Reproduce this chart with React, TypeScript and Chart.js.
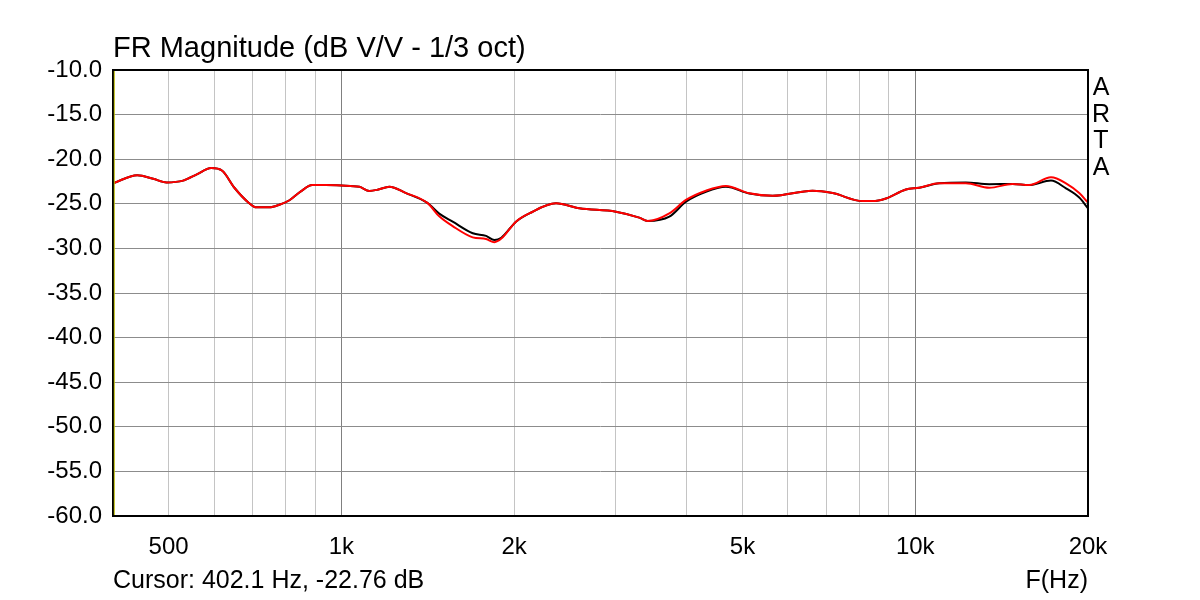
import React, { useEffect, useRef } from "react";
import { Chart, registerables } from "chart.js";

Chart.register(...registerables);

const freqs = [400, 441, 470, 496, 530, 560, 593, 620, 651, 690, 711, 749, 780, 812, 850, 890, 940, 1000, 1075, 1119, 1160, 1212, 1296, 1412, 1481, 1563, 1694, 1787, 1848, 1900, 2015, 2126, 2366, 2598, 3009, 3304, 3417, 3728, 3986, 4318, 4678, 5139, 5643, 6622, 7179, 8097, 8425, 8892, 9631, 10160, 11010, 12250, 13460, 14780, 15800, 17240, 18310, 19310, 20000];

const blackDb = [-22.7, -21.8, -22.2, -22.6, -22.4, -21.7, -21.0, -21.3, -23.2, -24.9, -25.4, -25.4, -25.1, -24.6, -23.6, -22.9, -22.9, -22.95, -23.1, -23.56, -23.4, -23.08, -23.8, -24.9, -26.1, -27.0, -28.3, -28.6, -29.06, -28.8, -27.0, -26.07, -24.95, -25.5, -25.88, -26.55, -26.93, -26.45, -24.76, -23.65, -23.1, -23.85, -24.1, -23.53, -23.8, -24.7, -24.7, -24.4, -23.4, -23.2, -22.7, -22.6, -22.8, -22.78, -22.9, -22.4, -23.27, -24.3, -25.5];

const redDb = [-22.7, -21.8, -22.2, -22.6, -22.4, -21.7, -21.0, -21.3, -23.2, -24.9, -25.4, -25.4, -25.1, -24.6, -23.6, -22.9, -22.9, -22.95, -23.1, -23.56, -23.4, -23.08, -23.8, -24.9, -26.4, -27.5, -28.76, -28.95, -29.3, -28.9, -27.0, -26.07, -24.95, -25.5, -25.88, -26.55, -26.93, -26.07, -24.57, -23.53, -23.0, -23.82, -24.1, -23.53, -23.8, -24.7, -24.7, -24.4, -23.4, -23.2, -22.7, -22.7, -23.2, -22.78, -22.9, -22.03, -22.7, -23.8, -24.87];

const xTicks = [400, 500, 600, 700, 800, 900, 1000, 2000, 3000, 4000, 5000, 6000, 7000, 8000, 9000, 10000, 20000];
const xLabels: Record<number, string> = { 500: "500", 1000: "1k", 2000: "2k", 5000: "5k", 10000: "10k", 20000: "20k" };
const decadeTicks = [1000, 10000];

const titleText = "FR Magnitude (dB V/V - 1/3 oct)";
const cursorText = "Cursor: 402.1 Hz, -22.76 dB";
const cursorFreq = 402.1;
const axisText = "F(Hz)";
const brandLetters = ["A", "R", "T", "A"];

const FONT = "'Liberation Sans', Arial, sans-serif";

const overlayPlugin = {
  id: "overlay",
  afterDraw(chart: any) {
    const { ctx, chartArea } = chart;
    const xs = chart.scales.x;
    ctx.save();
    // frame
    ctx.strokeStyle = "#000";
    ctx.lineWidth = 2;
    ctx.strokeRect(chartArea.left, chartArea.top, chartArea.right - chartArea.left, chartArea.bottom - chartArea.top);
    // cursor line
    const cx = xs.getPixelForValue(cursorFreq);
    ctx.strokeStyle = "#b8b800";
    ctx.lineWidth = 1;
    ctx.beginPath();
    ctx.moveTo(cx, chartArea.top + 1);
    ctx.lineTo(cx, chartArea.bottom - 1);
    ctx.stroke();
    // title
    ctx.fillStyle = "#000";
    ctx.textBaseline = "alphabetic";
    ctx.textAlign = "left";
    ctx.font = `29px ${FONT}`;
    ctx.fillText(titleText, chartArea.left, 57);
    // cursor text
    ctx.font = `25px ${FONT}`;
    ctx.fillText(cursorText, chartArea.left, 588);
    ctx.textAlign = "right";
    ctx.fillText(axisText, chartArea.right, 588);
    // brand
    ctx.textAlign = "center";
    ctx.font = `25px ${FONT}`;
    brandLetters.forEach((l, i) => {
      ctx.fillText(l, chartArea.right + 13, 95 + i * 26.5);
    });
    ctx.restore();
  },
};

export default function App() {
  const ref = useRef<HTMLCanvasElement>(null);
  useEffect(() => {
    if (!ref.current) return;
    const chart = new Chart(ref.current, {
      type: "line",
      data: {
        datasets: [
          {
            label: "black",
            data: freqs.map((f, i) => ({ x: f, y: blackDb[i] })),
            borderColor: "#000000",
            borderWidth: 2,
            pointRadius: 0,
            tension: 0.4,
            cubicInterpolationMode: "monotone",
            order: 2,
          },
          {
            label: "red",
            data: freqs.map((f, i) => ({ x: f, y: redDb[i] })),
            borderColor: "#ff0000",
            borderWidth: 2,
            pointRadius: 0,
            tension: 0.4,
            cubicInterpolationMode: "monotone",
            order: 1,
          },
        ],
      },
      options: {
        animation: false,
        responsive: false,
        devicePixelRatio: 1,
        layout: { padding: { left: 0, top: 70, right: 112, bottom: 0 } },
        plugins: { legend: { display: false }, tooltip: { enabled: false }, title: { display: false } },
        scales: {
          x: {
            type: "logarithmic",
            min: 400,
            max: 20000,
            afterBuildTicks: (scale: any) => {
              scale.ticks = xTicks.map((v) => ({ value: v }));
            },
            afterFit: (scale: any) => {
              scale.height = 84;
            },
            ticks: {
              autoSkip: false,
              maxRotation: 0,
              minRotation: 0,
              padding: 17,
              color: "#000",
              font: { family: FONT, size: 24 },
              callback: (v: any) => xLabels[Number(v)] ?? "",
            },
            grid: {
              drawTicks: false,
              lineWidth: 1,
              color: (c: any) => (c.tick && decadeTicks.includes(c.tick.value) ? "#808080" : "#c4c4c4"),
            },
            border: { display: false },
          },
          y: {
            type: "linear",
            min: -60,
            max: -10,
            afterFit: (scale: any) => {
              scale.width = 113;
            },
            ticks: {
              stepSize: 5,
              padding: 11,
              color: "#000",
              font: { family: FONT, size: 24 },
              callback: (v: any) => Number(v).toFixed(1),
            },
            grid: { drawTicks: false, color: "#8c8c8c", lineWidth: 1 },
            border: { display: false },
          },
        },
      },
      plugins: [overlayPlugin],
    });
    return () => chart.destroy();
  }, []);
  return (
    <div style={{ position: "fixed", left: 0, top: 0, width: 1200, height: 600, background: "#fff" }}>
      <canvas ref={ref} width={1200} height={600} style={{ width: 1200, height: 600 }} />
    </div>
  );
}
